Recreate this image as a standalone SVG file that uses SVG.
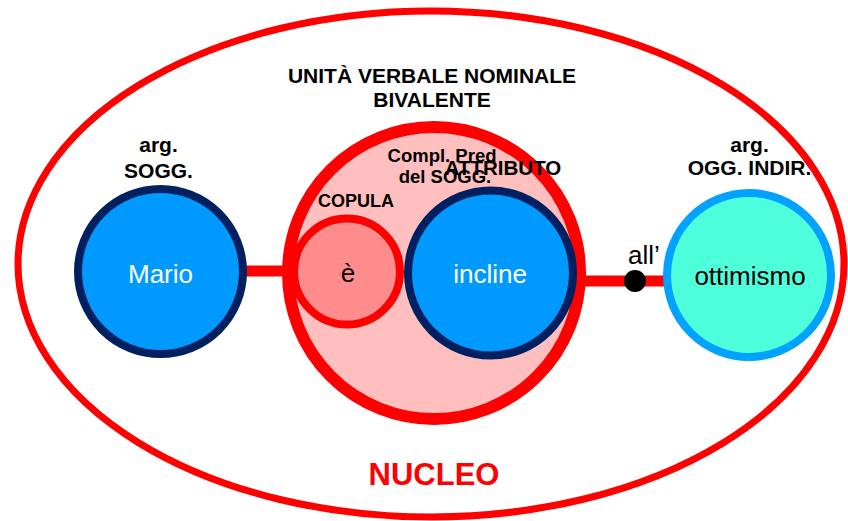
<svg xmlns="http://www.w3.org/2000/svg" width="848" height="521" viewBox="0 0 848 521">
<style>
text{font-family:"Liberation Sans",Arial,sans-serif;text-anchor:middle}
.lbl{font-weight:bold;fill:#000}
.node{font-size:26px}
.blue{fill:#0099FF;stroke:#002060;stroke-width:8}
</style>
<rect width="848" height="521" fill="#fff"/>
<g id="nucleo">
<ellipse cx="431" cy="264" rx="413" ry="253" fill="none" stroke="#FF0000" stroke-width="7"/>
<text x="434" y="485" style="font-size:31px;font-weight:bold;fill:#FF0000">NUCLEO</text>
</g>
<g id="connectors">
<line x1="240" y1="271" x2="292" y2="271" stroke="#FF0000" stroke-width="11"/>
<line x1="578" y1="281" x2="668" y2="281" stroke="#FF0000" stroke-width="11"/>
<circle cx="635" cy="281" r="11" fill="#000"/>
<text x="644" y="264" style="font-size:26px">all’</text>
</g>
<g id="unita">
<circle cx="434" cy="273" r="146" fill="#FFBFBF" stroke="#FF0000" stroke-width="12"/>
<text class="lbl" x="432" y="83" style="font-size:21px">UNITÀ VERBALE NOMINALE</text>
<text class="lbl" x="432" y="107" style="font-size:21px">BIVALENTE</text>
</g>
<g id="copula">
<circle cx="347" cy="271.5" r="53" fill="#FF8C8C" stroke="#FF0000" stroke-width="8"/>
<text class="node" x="348" y="282">è</text>
<text class="lbl" x="356" y="207" style="font-size:18px">COPULA</text>
</g>
<g id="incline">
<circle class="blue" cx="490.5" cy="273" r="82.5"/>
<text class="node" x="490" y="283" fill="#fff">incline</text>
<text class="lbl" x="442" y="162" style="font-size:18.5px">Compl. Pred</text>
<text class="lbl" x="445" y="183" style="font-size:18.5px">del SOGG.</text>
<text class="lbl" x="503" y="175" style="font-size:20.5px">ATTRIBUTO</text>
</g>
<g id="mario">
<circle class="blue" cx="160.5" cy="271.5" r="82.5"/>
<text class="node" x="160.5" y="283" fill="#fff">Mario</text>
<text class="lbl" x="158.5" y="152" style="font-size:21px">arg.</text>
<text class="lbl" x="158.5" y="178" style="font-size:21px">SOGG.</text>
</g>
<g id="ottimismo">
<circle cx="749" cy="275" r="82" fill="#4DFFDB" stroke="#00A2FF" stroke-width="8"/>
<text class="node" x="750" y="285" fill="#000">ottimismo</text>
<text class="lbl" x="749.5" y="152" style="font-size:21px">arg.</text>
<text class="lbl" x="749.5" y="175" style="font-size:21px">OGG. INDIR.</text>
</g>
</svg>
